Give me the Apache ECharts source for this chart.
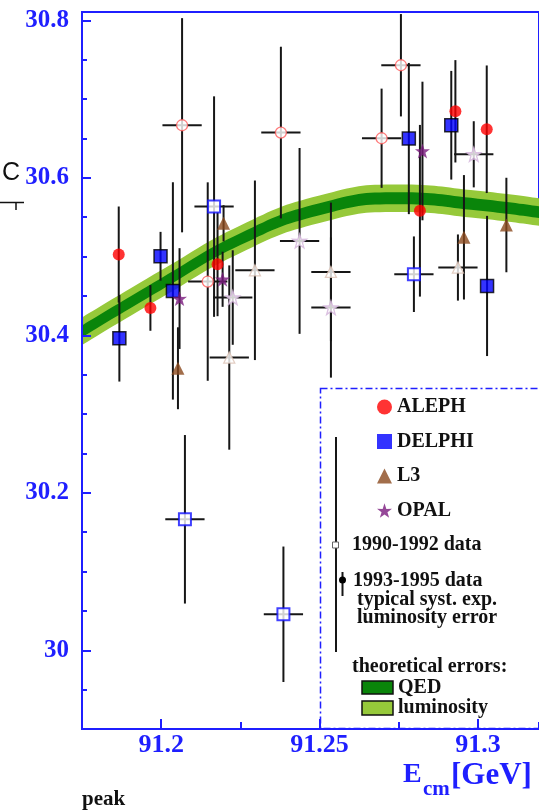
<!DOCTYPE html>
<html><head><meta charset="utf-8">
<script src="https://cdn.jsdelivr.net/npm/echarts@6/dist/echarts.min.js"></script>
<style>html,body{margin:0;padding:0;background:#fff}#c{width:539px;height:812px}</style>
</head><body><div id="c"></div>
<script>
// ---- axis ticks ----
const xTicks = [91.2, 91.25, 91.3];
const yTicks = [30, 30.2, 30.4, 30.6, 30.8];

// ---- theoretical curve (centre of band) and band half-widths ----
const bandX = [91.175, 91.2, 91.225, 91.25, 91.275, 91.3, 91.32];
const bandCenter = [30.405, 30.465, 30.522, 30.560, 30.574, 30.566, 30.556];
const qedHalf = 0.0075;
const lumiHalf = 0.0175;

// ---- 1993-1995 data: [E_cm, value, error] ----
const alephNew = [[91.1866,30.5025,0.061],[91.1966,30.4347,0.029],[91.2178,30.4902,0.066],[91.2817,30.5581,0.109],[91.2929,30.6844,0.065],[91.3028,30.6616,0.081]];
const delphiNew = [[91.1868,30.3962,0.055],[91.1998,30.5003,0.031],[91.2037,30.4563,0.138],[91.2782,30.6498,0.096],[91.2916,30.6667,0.069],[91.3029,30.4626,0.089]];
const l3New = [[91.2053,30.3581,0.052],[91.2197,30.5422,0.023],[91.2956,30.5244,0.079],[91.3090,30.5400,0.060]];
const opalNew = [[91.2058,30.4466,0.064],[91.2194,30.4711,0.035],[91.2825,30.6340,0.088]];

// ---- 1990-1992 data: [E_cm, value, error] ----
const alephOld = [[91.2066,30.6667,0.136],[91.2378,30.6574,0.109],[91.2696,30.6502,0.063],[91.2757,30.7429,0.065],[91.2147,30.4682,0.126]];
const delphiOld = [[91.2167,30.5634,0.140],[91.2075,30.1663,0.107],[91.2386,30.0457,0.086],[91.2798,30.4775,0.048]];
const l3Old = [[91.2296,30.4825,0.114],[91.2536,30.4804,0.088],[91.2215,30.3717,0.117],[91.2937,30.4860,0.042]];
const opalOld = [[91.2226,30.4479,0.060],[91.2437,30.5198,0.118],[91.2536,30.4352,0.089],[91.2987,30.6298,0.042]];
const oldXErr = 0.0062;

const SERIF = '"Liberation Serif","Times New Roman",serif';
const BLUE = '#1f1fff';
const STAR = 'path://M50,0 L61.8,35.1 L97.6,34.5 L68.8,55.9 L79.4,90.5 L50,70 L20.6,90.5 L31.2,55.9 L2.4,34.5 L38.2,35.1 Z';
const XMIN = 91.175, XMAX = 91.3193, YMIN = 29.9, YMAX = 30.8105;

const errData = [];
[alephNew, delphiNew, l3New, opalNew].forEach(g => g.forEach(p => errData.push([p[0], p[1], p[2], 0])));
[alephOld, delphiOld, l3Old, opalOld].forEach(g => g.forEach(p => errData.push([p[0], p[1], p[2], oldXErr])));

function bandEdge(name, offset, color) {
  return {type:'line', name, silent:true, z:1, smooth:0.5, symbol:'none',
    data: bandX.map((x,i) => [x, bandCenter[i] + offset]),
    lineStyle:{width:0, opacity:0}, areaStyle:{color, origin:'start', opacity:1}};
}
function pts(name, data, symbol, size, itemStyle) {
  return {type:'scatter', name, data: data.map(p => [p[0], p[1]]), symbol, symbolSize:size, itemStyle, z:4};
}
const LIGHT = '#96c93a', DARK = '#0a850a';
const TXT = 'bold 20px ' + SERIF;

const chart = echarts.init(document.getElementById('c'));
chart.setOption({
  animation:false,
  grid:{left:82, top:12, width:459, height:717, show:true, borderColor:BLUE, borderWidth:2, backgroundColor:'transparent'},
  xAxis:[
    {type:'value', min:XMIN, max:XMAX, position:'bottom', z:10,
     axisLine:{onZero:false, lineStyle:{color:BLUE, width:2}},
     axisTick:{inside:true, length:10, customValues:xTicks, lineStyle:{color:BLUE, width:2}},
     axisLabel:{customValues:xTicks, color:BLUE, fontFamily:SERIF, fontWeight:'bold', fontSize:26, margin:3, formatter:v=>String(v)},
     splitLine:{show:false}},
    {type:'value', min:XMIN, max:XMAX, interval:0.025, position:'bottom', z:10,
     axisLine:{show:false}, axisTick:{inside:true, length:7, lineStyle:{color:BLUE, width:2}},
     axisLabel:{show:false}, splitLine:{show:false}}
  ],
  yAxis:[
    {type:'value', min:YMIN, max:YMAX, position:'left', z:10,
     axisLine:{onZero:false, lineStyle:{color:BLUE, width:2}},
     axisTick:{inside:true, length:9, customValues:yTicks, lineStyle:{color:BLUE, width:2}},
     axisLabel:{customValues:yTicks, color:BLUE, fontFamily:SERIF, fontWeight:'bold', fontSize:25, margin:13, formatter:v=>String(v)},
     splitLine:{show:false}},
    {type:'value', min:YMIN, max:YMAX, interval:0.05, position:'left', z:10,
     axisLine:{show:false}, axisTick:{inside:true, length:5, lineStyle:{color:BLUE, width:2}},
     axisLabel:{show:false}, splitLine:{show:false}}
  ],
  legend:{
    data:[{name:'ALEPH',icon:'circle'},{name:'DELPHI',icon:'rect'},{name:'L3',icon:'triangle'},{name:'OPAL',icon:STAR}],
    orient:'vertical', left:377, top:397, padding:0, itemWidth:15, itemHeight:15, itemGap:14.5,
    selectedMode:false, itemStyle:{borderWidth:0},
    textStyle:{fontFamily:SERIF, fontWeight:'bold', fontSize:20, color:'#111'}
  },
  series:[
    bandEdge('lumi upper', lumiHalf, LIGHT),
    bandEdge('qed upper', qedHalf, DARK),
    bandEdge('qed lower', -qedHalf, LIGHT),
    bandEdge('lumi lower', -lumiHalf, '#ffffff'),
    {type:'custom', name:'errors', z:3, data:errData, silent:true,
     renderItem:(params, api) => {
       const x = api.value(0), y = api.value(1), e = api.value(2), h = api.value(3);
       const t = api.coord([x, y+e]), b = api.coord([x, y-e]);
       const ch = [{type:'line', shape:{x1:t[0], y1:t[1], x2:b[0], y2:b[1]}, style:{stroke:'#161616', lineWidth:2}}];
       if (h > 0) {
         const l = api.coord([x-h, y]), r = api.coord([x+h, y]);
         ch.push({type:'line', shape:{x1:l[0], y1:l[1], x2:r[0], y2:r[1]}, style:{stroke:'#161616', lineWidth:2}});
       }
       return {type:'group', children:ch};
     }},
    pts('ALEPH 90-92', alephOld, 'circle', 11, {color:'#fff', borderColor:'#ff5a5a', borderWidth:1.3}),
    pts('DELPHI 90-92', delphiOld, 'rect', 12, {color:'#fff', borderColor:'#1010ff', borderWidth:2}),
    pts('L3 90-92', l3Old, 'triangle', 11, {color:'#fff', borderColor:'#dcc2b4', borderWidth:1.3}),
    pts('OPAL 90-92', opalOld, STAR, 14, {color:'#fff', borderColor:'#d2b2da', borderWidth:1.3}),
    pts('ALEPH', alephNew, 'circle', 12, {color:'#ff0000'}),
    pts('DELPHI', delphiNew, 'rect', 13, {color:'#0000ff', borderColor:'#000', borderWidth:1.5}),
    pts('L3', l3New, 'triangle', 13, {color:'#8b4a1e'}),
    pts('OPAL', opalNew, STAR, 15, {color:'#7a1a7e'})
  ],
  graphic:[
    {type:'rect', z:100, silent:true, shape:{x:320.5, y:388.5, width:300, height:340},
     style:{fill:'none', stroke:BLUE, lineWidth:1.5, lineDash:[7,3,2,3]}},
    {type:'line', z:100, shape:{x1:336, y1:437, x2:336, y2:652}, style:{stroke:'#161616', lineWidth:2}},
    {type:'rect', z:101, shape:{x:332.5, y:542, width:6, height:6}, style:{fill:'#fff', stroke:'#666', lineWidth:1}},
    {type:'line', z:100, shape:{x1:342.5, y1:572, x2:342.5, y2:596}, style:{stroke:'#161616', lineWidth:2}},
    {type:'circle', z:101, shape:{cx:342.5, cy:580, r:3.5}, style:{fill:'#000'}},
    {type:'text', z:100, x:352, y:545, style:{text:'1990-1992 data', font:TXT, fill:'#111', verticalAlign:'middle'}},
    {type:'text', z:100, x:353, y:581, style:{text:'1993-1995 data', font:TXT, fill:'#111', verticalAlign:'middle'}},
    {type:'text', z:100, x:357, y:600, style:{text:'typical syst. exp.', font:TXT, fill:'#111', verticalAlign:'middle'}},
    {type:'text', z:100, x:357, y:618, style:{text:'luminosity error', font:TXT, fill:'#111', verticalAlign:'middle'}},
    {type:'text', z:100, x:352, y:667, style:{text:'theoretical errors:', font:TXT, fill:'#111', verticalAlign:'middle'}},
    {type:'rect', z:100, shape:{x:362, y:681, width:31, height:13}, style:{fill:DARK, stroke:'#111', lineWidth:1.5}},
    {type:'text', z:100, x:398, y:688, style:{text:'QED', font:TXT, fill:'#111', verticalAlign:'middle'}},
    {type:'rect', z:100, shape:{x:362, y:701, width:31, height:14}, style:{fill:LIGHT, stroke:'#111', lineWidth:1.5}},
    {type:'text', z:100, x:398, y:708, style:{text:'luminosity', font:TXT, fill:'#111', verticalAlign:'middle'}},
    {type:'text', z:100, x:403, y:775, style:{text:'E', font:'bold 28px '+SERIF, fill:BLUE, verticalAlign:'middle'}},
    {type:'text', z:100, x:423, y:790, style:{text:'cm', font:'bold 21px '+SERIF, fill:BLUE, verticalAlign:'middle'}},
    {type:'text', z:100, x:451, y:776, style:{text:'[GeV]', font:'bold 31px '+SERIF, fill:BLUE, verticalAlign:'middle'}},
    {type:'text', z:100, x:2, y:173, style:{text:'C', font:'25px "Liberation Sans",Arial,sans-serif', fill:'#111', verticalAlign:'middle'}},
    {type:'line', z:100, shape:{x1:0, y1:202.5, x2:24, y2:202.5}, style:{stroke:'#111', lineWidth:1.5}},
    {type:'line', z:100, shape:{x1:16, y1:202.5, x2:16, y2:210}, style:{stroke:'#111', lineWidth:1.5}},
    {type:'text', z:100, x:82, y:800, style:{text:'peak', font:'bold 21px '+SERIF, fill:'#111', verticalAlign:'middle'}}
  ]
});
</script></body></html>
